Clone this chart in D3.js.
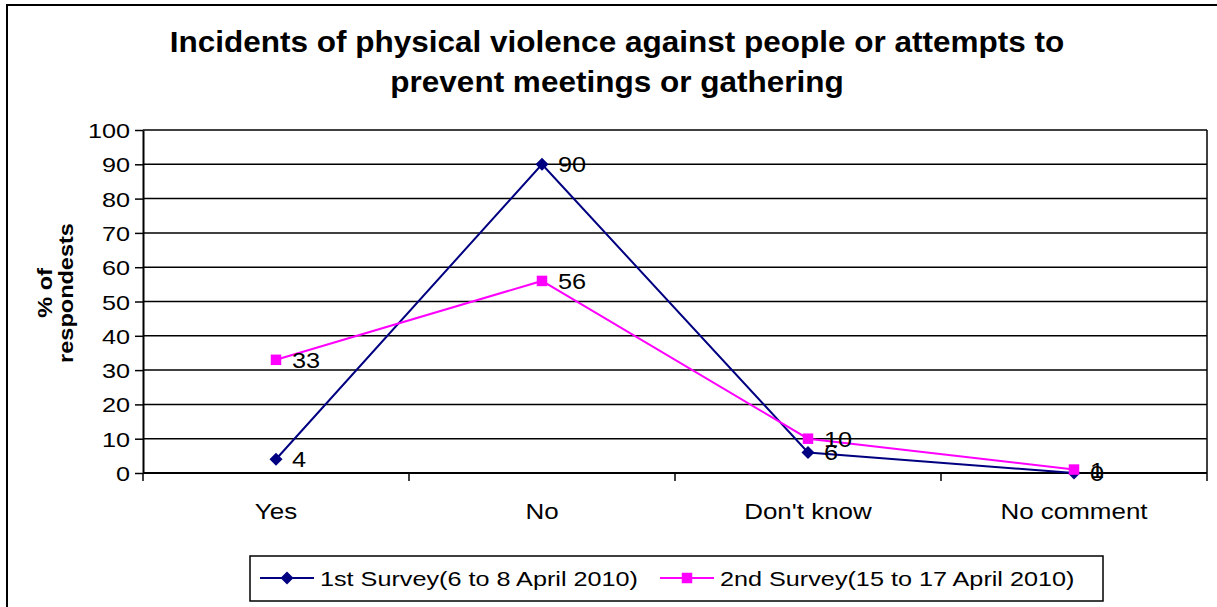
<!DOCTYPE html>
<html>
<head>
<meta charset="utf-8">
<script src="https://cdn.jsdelivr.net/npm/d3@7"></script>
<style>
  body { margin: 0; background: #fff; }
  text { font-family: "Liberation Sans", Arial, sans-serif; fill: #000; }
</style>
</head>
<body>
<svg id="chart" width="1217" height="607"></svg>
<script>
// chart data
var categories = ["Yes", "No", "Don't know", "No comment"];
var survey1 = [4, 90, 6, 0];
var survey2 = [33, 56, 10, 1];
var seriesNames = ["1st Survey(6 to 8 April 2010)", "2nd Survey(15 to 17 April 2010)"];
var yTicks = [0, 10, 20, 30, 40, 50, 60, 70, 80, 90, 100];
var titleLines = ["Incidents of physical violence against people or attempts to", "prevent meetings or gathering"];

var svg = d3.select("#chart");

// the original export is a bit wide, so stretch text horizontally
function stretch(sel, f) {
  sel.each(function() {
    var w = this.getComputedTextLength();
    d3.select(this).attr("textLength", w * f).attr("lengthAdjust", "spacingAndGlyphs");
  });
}

// outer frame
svg.append("rect")
  .attr("x", 7).attr("y", 5)
  .attr("width", 1230).attr("height", 620)
  .attr("fill", "none").attr("stroke", "#000").attr("stroke-width", 2);

var pLeft = 143, pRight = 1207, pTop = 130, pBottom = 473;

var x = d3.scaleBand().domain(categories).range([pLeft, pRight]);
var y = d3.scaleLinear().domain([0, 100]).range([pBottom, pTop]);

// gridlines
svg.append("g").selectAll("line")
  .data(yTicks.slice(1))
  .enter().append("line")
  .attr("x1", pLeft).attr("x2", pRight)
  .attr("y1", function(d) { return y(d); })
  .attr("y2", function(d) { return y(d); })
  .attr("stroke", "#000").attr("stroke-width", 1.5);

// right edge of plot
svg.append("line")
  .attr("x1", pRight).attr("x2", pRight)
  .attr("y1", pTop).attr("y2", pBottom)
  .attr("stroke", "#000").attr("stroke-width", 1.5);

// y axis
var yAxis = svg.append("g")
  .attr("transform", "translate(" + pLeft + ",0)")
  .call(d3.axisLeft(y).tickValues(yTicks).tickSize(8).tickPadding(5).tickSizeOuter(0));
yAxis.select(".domain").attr("stroke", "#000").attr("stroke-width", 2);
yAxis.selectAll(".tick line").attr("stroke", "#000").attr("stroke-width", 1.5);
yAxis.selectAll(".tick text")
  .style("font-size", "21px")
  .style("font-family", "Liberation Sans, Arial, sans-serif")
  .attr("fill", "#000")
  .attr("dy", "0.36em");
stretch(yAxis.selectAll(".tick text"), 1.2);

// x axis
var xAxis = svg.append("g")
  .attr("transform", "translate(0," + pBottom + ")");
xAxis.append("line")
  .attr("x1", pLeft).attr("x2", pRight)
  .attr("y1", 0).attr("y2", 0)
  .attr("stroke", "#000").attr("stroke-width", 2);
var edges = categories.map(function(c) { return x(c); }).concat([pRight]);
xAxis.selectAll("line.tk")
  .data(edges)
  .enter().append("line")
  .attr("class", "tk")
  .attr("x1", function(d) { return d; }).attr("x2", function(d) { return d; })
  .attr("y1", 0).attr("y2", 8)
  .attr("stroke", "#000").attr("stroke-width", 1.5);
var xl = xAxis.selectAll("text")
  .data(categories)
  .enter().append("text")
  .attr("x", function(d) { return x(d) + x.bandwidth() / 2; })
  .attr("y", 46)
  .attr("text-anchor", "middle")
  .style("font-size", "22px")
  .text(function(d) { return d; });
stretch(xl, 1.18);

// title
var tt = svg.selectAll("text.title")
  .data(titleLines)
  .enter().append("text")
  .attr("class", "title")
  .attr("x", 617)
  .attr("y", function(d, i) { return 52 + i * 40; })
  .attr("text-anchor", "middle")
  .style("font-size", "30px")
  .style("font-weight", "bold")
  .text(function(d) { return d; });
stretch(tt, 1.05);

// y label
var yl1 = svg.append("text")
  .attr("transform", "translate(52,293) rotate(-90)")
  .attr("text-anchor", "middle")
  .style("font-size", "21px")
  .style("font-weight", "bold")
  .text("% of");
var yl2 = svg.append("text")
  .attr("transform", "translate(73,293) rotate(-90)")
  .attr("text-anchor", "middle")
  .style("font-size", "21px")
  .style("font-weight", "bold")
  .text("respondests");
stretch(yl1, 1.12);
stretch(yl2, 1.12);

var cx = function(i) { return x(categories[i]) + x.bandwidth() / 2; };
var line = d3.line()
  .x(function(d, i) { return cx(i); })
  .y(function(d) { return y(d); });

// diamond = square turned 45 degrees
var series = [
  { name: seriesNames[0], values: survey1, color: "#000080", rot: 45, size: 85 },
  { name: seriesNames[1], values: survey2, color: "#FF00FF", rot: 0, size: 110 }
];

series.forEach(function(s) {
  svg.append("path")
    .datum(s.values)
    .attr("d", line)
    .attr("fill", "none")
    .attr("stroke", s.color)
    .attr("stroke-width", 2);
});

series.forEach(function(s) {
  svg.append("g").selectAll("path")
    .data(s.values)
    .enter().append("path")
    .attr("transform", function(d, i) { return "translate(" + cx(i) + "," + y(d) + ") rotate(" + s.rot + ")"; })
    .attr("d", d3.symbol().type(d3.symbolSquare).size(s.size))
    .attr("fill", s.color);
});

// data labels
series.forEach(function(s) {
  var t = svg.append("g").selectAll("text")
    .data(s.values)
    .enter().append("text")
    .attr("x", function(d, i) { return cx(i) + 16; })
    .attr("y", function(d) { return y(d) + 8; })
    .style("font-size", "22px")
    .text(function(d) { return d; });
  stretch(t, 1.15);
});

// legend
var lg = svg.append("g");
lg.append("rect")
  .attr("x", 250).attr("y", 556)
  .attr("width", 853).attr("height", 45)
  .attr("fill", "#fff").attr("stroke", "#000").attr("stroke-width", 1.5);
var legendX = [260, 660];
series.forEach(function(s, i) {
  var g = lg.append("g").attr("transform", "translate(" + legendX[i] + ",578)");
  g.append("line").attr("x1", 0).attr("x2", 54).attr("y1", 0).attr("y2", 0)
    .attr("stroke", s.color).attr("stroke-width", 2);
  g.append("path").attr("transform", "translate(27,0) rotate(" + s.rot + ")")
    .attr("d", d3.symbol().type(d3.symbolSquare).size(s.size))
    .attr("fill", s.color);
  var t = g.append("text").attr("x", 60).attr("y", 8)
    .style("font-size", "21px")
    .text(s.name);
  stretch(t, 1.2);
});
</script>
</body>
</html>
